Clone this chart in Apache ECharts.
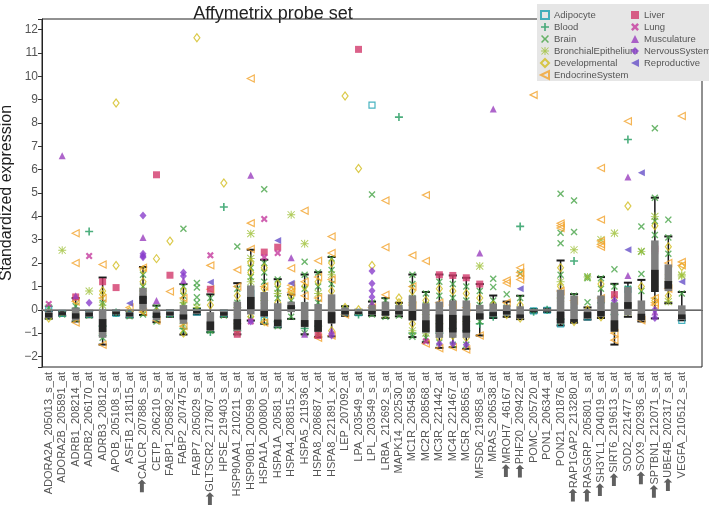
<!DOCTYPE html>
<html><head><meta charset="utf-8">
<script src="https://cdn.jsdelivr.net/npm/echarts@6/dist/echarts.min.js"></script>
<style>html,body{margin:0;padding:0;background:#fff}#c{width:709px;height:514px}</style>
</head><body><div id="c"></div>
<script>
const categories = ['ADORA2A_205013_s_at','ADORA2B_205891_at','ADRB1_208214_at','ADRB2_206170_at','ADRB3_20812_at','APOB_205108_s_at','ASF1B_218115_at','CALCR_207886_s_at','CETP_206210_s_at','FABP1_205892_s_at','FABP2_207475_at','FABP7_205029_s_at','GLTSCR2_217807_s_at','HPSE_219403_s_at','HSP90AA1_210211_s_at','HSP90B1_200599_s_at','HSPA1A_200800_s_at','HSPA1A_20581_s_at','HSPA4_208815_x_at','HSPA5_211936_at','HSPA8_208687_x_at','HSPA8_221891_x_at','LEP_207092_at','LPA_203549_s_at','LPL_203549_s_at','LRBA_212692_s_at','MAPK14_202530_at','MC1R_205458_at','MC2R_208568_at','MC3R_221442_at','MC4R_221467_at','MC5R_208565_at','MFSD6_219858_s_at','MRAS_206538_at','MROH7_46167_at','PHF20_209422_at','POMC_205720_at','PON1_206344_at','PON21_201876_at','RAP1GAP2_213280_at','RASGRP_205801_s_at','SH3YL1_204019_s_at','SIRT6_219613_s_at','SOD2_221477_s_at','SOX9_202936_s_at','SPTBN1_212071_s_at','UBE4B_202317_s_at','VEGFA_210512_s_at'];
const markedProbes = ['CALCR_207886_s_at','GLTSCR2_217807_s_at','MROH7_46167_at','PHF20_209422_at','RAP1GAP2_213280_at','RASGRP_205801_s_at','SH3YL1_204019_s_at','SIRT6_219613_s_at','SOX9_202936_s_at','SPTBN1_212071_s_at','UBE4B_202317_s_at'];

const whiskerLow  = [-0.38,-0.25,-0.5,-0.32,-1.49,-0.22,-0.33,-0.22,-0.53,-0.3,-1.06,-0.2,-0.96,-0.3,-1.05,-0.46,-0.6,-0.75,-0.39,-1.05,-1.17,-1.14,-0.26,-0.22,-0.25,-0.35,-0.28,-1.17,-1.39,-1.63,-1.6,-1.67,-1.1,-0.35,-0.3,-0.4,-0.12,-0.1,-0.67,-0.55,-0.42,-0.35,-1.49,-0.3,-0.5,-0.37,0.28,-0.45];
const boxLow      = [-0.36,-0.24,-0.45,-0.3,-1.2,-0.2,-0.3,0.0,-0.45,-0.27,-0.6,-0.18,-0.9,-0.27,-0.9,-0.2,-0.3,-0.72,-0.1,-0.75,-0.95,-0.6,-0.24,-0.2,-0.22,-0.28,-0.22,-0.46,-1.0,-1.2,-1.2,-1.2,-0.43,-0.3,-0.25,-0.38,-0.1,-0.08,-0.6,-0.53,-0.39,-0.3,-0.95,-0.24,-0.46,0.76,0.8,-0.44];
const darkLow     = [-0.33,-0.22,-0.38,-0.28,-0.95,-0.18,-0.28,0.25,-0.35,-0.24,-0.42,-0.15,-0.88,-0.25,-0.85,0.0,-0.28,-0.7,0.0,-0.73,-0.94,-0.57,-0.2,-0.18,-0.2,-0.25,-0.2,-0.45,-0.95,-0.95,-0.97,-0.98,-0.41,-0.28,-0.2,-0.35,-0.09,-0.07,-0.58,-0.52,-0.36,-0.28,-0.93,0.04,-0.44,0.76,0.9,-0.4];
const darkHigh    = [-0.13,-0.1,-0.15,-0.12,-0.4,-0.08,-0.12,0.6,-0.12,-0.1,-0.2,-0.05,-0.5,-0.1,-0.4,0.55,0.0,-0.42,0.2,-0.44,-0.44,-0.1,-0.02,-0.08,-0.02,-0.05,-0.02,-0.05,-0.45,-0.2,-0.22,-0.25,-0.15,-0.1,-0.05,-0.2,0.0,0.02,-0.08,-0.4,-0.1,-0.05,-0.45,0.33,-0.17,1.71,1.23,-0.2];
const boxHigh     = [-0.08,-0.08,0.1,-0.06,0.0,-0.05,-0.08,0.93,-0.02,-0.05,0.2,0.0,-0.1,-0.05,0.35,1.04,0.76,0.28,0.35,0.33,0.25,0.66,0.1,-0.03,0.2,0.35,0.2,0.61,0.28,0.35,0.4,0.4,0.21,0.27,0.2,0.15,0.02,0.05,0.86,0.61,0.04,0.61,0.3,0.97,0.4,2.97,1.94,0.19];
const whiskerHigh = [-0.05,-0.06,0.5,-0.04,1.38,-0.03,-0.05,1.83,0.18,-0.02,1.1,0.05,0.66,-0.03,1.14,2.57,2.14,1.31,0.65,1.51,1.61,2.26,0.15,0.0,0.35,0.5,0.3,1.51,0.76,1.51,1.47,1.37,1.1,0.61,0.35,0.6,0.03,0.06,2.11,0.67,0.1,1.4,1.11,1.16,1.28,4.8,3.14,0.76];

const yTicks = [-2,-1,0,1,2,3,4,5,6,7,8,9,10,11,12];

// [category index, standardized expression]
const adipocyte = [[0,0.0],[1,-0.15],[3,-0.2],[5,-0.15],[6,-0.2],[9,-0.15],[11,-0.1],[13,-0.15],[15,0.7],[16,-0.45],[17,-0.6],[22,-0.1],[23,-0.12],[24,8.76],[26,-0.05],[33,-0.1],[34,-0.1],[36,-0.05],[37,-0.02],[38,-0.6],[40,-0.3],[43,0.87],[47,-0.45]];
const blood = [[0,0.15],[2,0.05],[3,3.35],[4,-1.1],[4,-0.7],[5,-0.12],[7,0.5],[8,-0.3],[10,-0.8],[12,-0.95],[13,4.4],[14,-0.9],[17,-0.5],[18,0.1],[19,-0.8],[20,-0.7],[23,-0.2],[26,8.25],[27,-1.0],[29,-1.0],[30,-0.8],[31,-0.9],[32,-0.6],[33,-0.3],[35,3.57],[36,-0.08],[37,0.0],[38,-0.4],[39,2.09],[41,0.3],[42,-0.2],[43,7.29]];
const brain = [[0,0.1],[0,-0.3],[1,-0.2],[2,-0.4],[2,0.15],[3,-0.25],[4,-1.2],[4,-0.9],[4,0.3],[4,-0.1],[4,-0.6],[6,-0.28],[7,1.5],[7,1.0],[7,0.2],[7,-0.2],[8,-0.5],[8,0.1],[9,-0.2],[10,3.47],[10,1.0],[10,0.6],[10,0.2],[10,-0.4],[10,-0.9],[11,1.15],[11,0.95],[11,0.54],[11,0.3],[12,0.5],[12,-0.3],[12,-0.9],[13,-0.25],[14,2.71],[14,0.9],[14,0.3],[14,-0.5],[14,-1.0],[15,1.8],[15,1.4],[15,0.9],[15,0.3],[15,-0.4],[16,5.16],[16,2.0],[16,1.6],[16,1.2],[16,0.6],[16,-0.1],[17,1.3],[17,0.9],[17,0.5],[17,0.0],[17,-0.7],[18,0.4],[18,-0.3],[19,2.06],[19,1.5],[19,0.9],[19,0.2],[19,-0.6],[19,-1.0],[20,1.6],[20,1.0],[20,0.3],[20,-0.5],[20,-1.0],[21,2.2],[21,1.7],[21,1.1],[21,0.4],[21,-0.3],[22,0.05],[24,4.94],[24,0.3],[24,-0.2],[25,0.4],[25,-0.3],[26,0.1],[26,-0.25],[27,1.5],[27,1.1],[27,0.5],[27,-0.3],[27,-1.15],[28,0.7],[28,0.2],[28,-0.5],[28,-1.2],[29,1.2],[29,0.6],[29,0.0],[29,-0.8],[29,-1.4],[30,1.1],[30,0.5],[30,-0.2],[30,-0.9],[30,-1.5],[31,1.0],[31,0.4],[31,-0.3],[31,-1.0],[31,-1.5],[32,0.8],[32,0.2],[32,-0.5],[33,1.33],[33,0.97],[33,0.4],[34,0.66],[34,0.1],[35,1.55],[35,0.5],[35,-0.2],[38,4.97],[38,3.3],[38,2.85],[38,1.5],[38,0.3],[38,-0.5],[39,4.68],[39,3.33],[39,0.6],[39,0.0],[40,1.43],[40,1.35],[40,0.32],[41,1.35],[41,0.9],[41,0.0],[42,1.73],[42,1.0],[42,0.2],[42,-0.6],[43,0.9],[43,0.4],[44,3.57],[44,2.5],[44,1.53],[44,0.8],[44,-0.2],[45,7.77],[45,4.8],[45,3.8],[45,3.2],[45,2.5],[46,3.86],[46,3.1],[46,2.4],[47,0.7]];
const bronchialEpithelium = [[1,2.55],[2,-0.1],[3,0.8],[4,0.2],[4,-1.0],[7,0.8],[10,0.3],[10,-0.6],[11,0.1],[14,0.1],[14,-0.6],[15,3.26],[15,2.2],[15,1.2],[16,0.4],[17,0.7],[18,4.07],[19,2.83],[20,0.7],[21,1.5],[25,-0.2],[27,0.3],[27,-0.9],[28,-0.2],[28,-1.0],[29,-0.6],[30,-0.4],[31,-0.5],[32,1.87],[38,1.2],[38,0.5],[39,2.57],[40,1.4],[41,3.0],[42,3.28],[43,-0.1],[44,2.5],[45,4.0],[46,1.2],[46,0.35],[47,1.5],[47,1.45]];
const developmental = [[0,-0.35],[2,-0.3],[2,0.4],[4,0.8],[4,0.65],[4,-0.4],[5,8.85],[5,1.9],[6,-0.05],[7,1.7],[7,1.2],[7,0.0],[8,2.19],[8,-0.1],[9,2.94],[10,0.8],[10,-0.2],[10,-1.0],[11,11.65],[12,0.2],[12,-0.6],[13,5.43],[14,0.6],[14,-0.2],[14,-0.8],[15,2.0],[15,1.6],[15,-0.3],[16,1.8],[16,0.9],[16,-0.5],[17,1.1],[17,0.3],[18,0.6],[18,0.8],[19,1.0],[19,-0.3],[20,1.2],[20,0.0],[20,-0.9],[21,2.0],[21,0.8],[21,-0.9],[22,9.15],[22,0.1],[23,6.05],[23,0.0],[24,1.9],[25,0.1],[26,0.5],[26,0.3],[27,0.8],[27,-0.6],[28,0.4],[28,-0.8],[29,0.9],[29,-0.3],[29,-1.2],[30,0.8],[30,-0.5],[30,-1.1],[31,0.7],[31,-0.6],[31,-1.2],[32,0.5],[32,-0.2],[33,0.2],[34,-0.2],[35,0.2],[35,-0.35],[38,1.8],[38,1.0],[38,-0.3],[39,0.3],[39,-0.5],[40,0.0],[41,1.1],[41,-0.3],[42,-0.8],[42,0.5],[43,4.44],[43,0.2],[44,1.0],[44,0.0],[45,3.6],[45,1.0],[45,0.4],[46,2.7],[46,1.5],[46,0.6],[47,1.85]];
const endocrineSystem = [[2,3.28],[2,2.0],[2,-0.55],[2,0.35],[4,1.94],[4,-1.5],[4,0.5],[6,0.1],[7,1.8],[7,-0.1],[8,-0.45],[9,0.78],[10,0.5],[10,-0.7],[12,1.9],[12,0.88],[14,1.71],[14,1.0],[15,9.9],[15,3.71],[15,2.6],[16,1.0],[16,-0.55],[18,1.78],[18,1.05],[18,0.9],[18,0.75],[19,4.24],[19,1.2],[19,0.6],[20,2.1],[20,1.4],[20,0.5],[20,-1.2],[21,3.14],[21,2.43],[21,1.3],[21,-1.1],[22,-0.2],[24,0.1],[25,4.68],[25,2.68],[25,0.64],[27,2.33],[27,1.0],[27,0.2],[28,4.91],[28,2.09],[28,-1.45],[29,0.3],[29,-1.65],[30,0.2],[30,-1.6],[31,0.1],[31,-1.7],[32,-1.1],[34,1.26],[34,1.15],[34,0.3],[35,1.8],[35,1.6],[35,1.45],[35,1.3],[36,9.2],[38,3.7],[38,3.5],[38,3.6],[38,0.8],[39,0.4],[41,6.07],[41,3.86],[41,2.95],[41,2.8],[41,2.7],[41,0.5],[42,-1.0],[42,-1.3],[43,8.07],[44,-0.45],[45,0.5],[45,0.3],[45,0.2],[46,2.0],[46,0.9],[47,8.3],[47,2.05],[47,1.9]];
const liver = [[2,0.55],[4,1.2],[5,0.95],[8,5.78],[9,1.48],[12,0.88],[14,-1.05],[16,2.47],[17,2.68],[20,-1.1],[23,11.15],[29,1.5],[30,1.47],[31,1.37],[32,1.1],[42,0.65],[45,2.6]];
const lung = [[0,0.25],[3,2.3],[12,2.33],[15,-0.5],[16,3.89],[16,2.25],[17,2.43],[28,-1.35]];
const musculature = [[1,6.6],[2,0.6],[7,3.09],[8,0.4],[10,1.25],[15,5.76],[18,2.23],[19,-1.05],[21,-0.9],[24,0.3],[32,2.43],[33,8.6],[43,5.68],[43,1.47],[45,2.55],[45,-0.1]];
const nervousSystem = [[3,0.3],[7,4.04],[7,2.4],[7,2.3],[7,2.25],[10,1.6],[10,1.45],[15,-0.5],[21,-1.1],[24,1.66],[24,1.13],[24,0.82],[24,0.55],[29,-1.45],[30,-1.45],[31,-1.5],[42,0.4],[45,-0.35],[45,0.0]];
const reproductive = [[6,0.28],[12,1.18],[17,2.97],[18,1.14],[35,0.9],[43,2.57],[44,5.87],[47,1.2]];

const FONT = "'Liberation Sans', Arial, sans-serif";
const SYM = {
  plus: 'path://M4,0h2v4h4v2h-4v4h-2v-4h-4v-2h4z',
  cross: 'path://M1.4,0L5,3.6L8.6,0L10,1.4L6.4,5L10,8.6L8.6,10L5,6.4L1.4,10L0,8.6L3.6,5L0,1.4Z',
  bigcross: 'path://M2.2,0L5,2.8L7.8,0L10,2.2L7.2,5L10,7.8L7.8,10L5,7.2L2.2,10L0,7.8L2.8,5L0,2.2Z',
  star: 'path://M4.4,0H5.6V10H4.4Z M0,4.4H10V5.6H0Z M1,0.2L9.8,9L9,9.8L0.2,1Z M9,0.2L9.8,1L1,9.8L0.2,9Z',
  tleft: 'path://M0,5L10,0L10,10Z'
};

function sc(name, data, symbol, color, hollow, size) {
  return {
    name, type: 'scatter', data, symbol, symbolSize: size, z: 2,
    itemStyle: hollow ? { color: 'rgba(255,255,255,0)', borderColor: color, borderWidth: 1.2 } : { color: color },
    emphasis: { disabled: true }
  };
}

const boxData = categories.map((c, i) => [i, whiskerLow[i], boxLow[i], darkLow[i], darkHigh[i], boxHigh[i], whiskerHigh[i]]);

function renderWhisker(params, api) {
  const x = api.value(0);
  const lo = api.coord([x, api.value(1)]);
  const hi = api.coord([x, api.value(6)]);
  const w = api.size([1, 0])[0] * 0.6;
  const st = { stroke: '#1a1a1a', lineWidth: 1.5 };
  return { type: 'group', children: [
    { type: 'line', shape: { x1: lo[0], y1: lo[1], x2: hi[0], y2: hi[1] }, style: st },
    { type: 'line', shape: { x1: lo[0] - w / 2, y1: lo[1], x2: lo[0] + w / 2, y2: lo[1] }, style: { stroke: '#1a1a1a', lineWidth: 2 } },
    { type: 'line', shape: { x1: hi[0] - w / 2, y1: hi[1], x2: hi[0] + w / 2, y2: hi[1] }, style: { stroke: '#1a1a1a', lineWidth: 2 } }
  ]};
}
function renderBox(params, api) {
  const x = api.value(0);
  const bl = api.coord([x, api.value(2)]);
  const dl = api.coord([x, api.value(3)]);
  const dh = api.coord([x, api.value(4)]);
  const bh = api.coord([x, api.value(5)]);
  const w = api.size([1, 0])[0] * 0.56;
  return { type: 'group', children: [
    { type: 'rect', shape: { x: bl[0] - w / 2, y: bh[1], width: w, height: bl[1] - bh[1] }, style: { fill: '#7f7f7f' } },
    { type: 'rect', shape: { x: dl[0] - w / 2, y: dh[1], width: w, height: dl[1] - dh[1] }, style: { fill: '#262626' } }
  ]};
}

const chart = echarts.init(document.getElementById('c'), null, { renderer: 'canvas' });
chart.setOption({
  animation: false,
  backgroundColor: '#fff',
  title: { text: 'Affymetrix probe set', left: 268, top: 0, textAlign: 'center',
    textStyle: { fontFamily: FONT, fontSize: 18, fontWeight: 'normal', color: '#222' } },
  grid: { left: 42, right: 7, top: 19, bottom: 147, show: true, borderColor: '#222', borderWidth: 1,
    containLabel: false, outerBoundsMode: 'none' },
  graphic: [{ type: 'rect', z: 3, shape: { x: 537, y: 4, width: 172, height: 77 }, style: { fill: '#e6e6e6' } }],
  legend: [
    { data: ['Adipocyte','Blood','Brain','BronchialEpithelium','Developmental','EndocrineSystem'],
      orient: 'vertical', left: 540, top: 10, itemWidth: 8, itemHeight: 8, itemGap: 2, padding: 0,
      textStyle: { fontFamily: FONT, fontSize: 9.5, color: '#555' }, z: 5 },
    { data: ['Liver','Lung','Musculature','NervousSystem','Reproductive'],
      orient: 'vertical', left: 631, top: 10, itemWidth: 8, itemHeight: 8, itemGap: 2, padding: 0,
      textStyle: { fontFamily: FONT, fontSize: 9.5, color: '#555' }, z: 5 }
  ],
  xAxis: {
    type: 'category', data: categories.concat(['']), boundaryGap: true,
    axisLine: { lineStyle: { color: '#222', width: 1 } },
    axisTick: { alignWithLabel: true, length: 4, interval: (i) => i < categories.length, lineStyle: { color: '#333' } },
    axisLabel: {
      interval: 0, rotate: 90, margin: 5, fontFamily: FONT, fontSize: 11, color: '#555',
      formatter: (v) => markedProbes.includes(v) ? '{arr|\u27A1}' + v : v,
      rich: { arr: { fontFamily: "'DejaVu Sans'", fontSize: 17, color: '#606060' } }
    },
    splitLine: { show: false }
  },
  yAxis: {
    type: 'value', min: -2.45, max: 12.45, splitNumber: 15, minInterval: 1, maxInterval: 1,
    name: 'Standardized expression', nameLocation: 'middle', nameGap: 27, nameMoveOverlap: false,
    nameTextStyle: { fontFamily: FONT, fontSize: 16, color: '#222' },
    axisLine: { show: true, lineStyle: { color: '#222' } },
    axisTick: { show: true, length: 4, lineStyle: { color: '#333' } },
    axisLabel: { fontFamily: FONT, fontSize: 12, color: '#555', margin: 4,
      formatter: (v) => yTicks.includes(Math.round(v * 100) / 100) ? (v < 0 ? '\u2212' + (-v) : String(v)) : '' },
    splitLine: { show: false }
  },
  series: [
    { type: 'line', data: [], z: 1, silent: true,
      markLine: { silent: true, symbol: 'none', label: { show: false },
        lineStyle: { color: '#808080', width: 1.5, type: 'solid' }, data: [{ yAxis: 0 }] } },
    { type: 'custom', name: 'whiskers', data: boxData, renderItem: renderWhisker, encode: { x: 0, y: [1, 6] }, z: 1, silent: true },
    sc('Adipocyte', adipocyte, 'rect', '#1aa0b0', true, 6),
    sc('Blood', blood, SYM.plus, '#1f9a5c', false, 8),
    sc('Brain', brain, SYM.cross, '#47a447', false, 7),
    sc('BronchialEpithelium', bronchialEpithelium, SYM.star, '#9cbf35', false, 8),
    sc('Developmental', developmental, 'diamond', '#d2bd1e', true, [6, 8]),
    sc('EndocrineSystem', endocrineSystem, SYM.tleft, '#f2a22a', true, 7),
    sc('Liver', liver, 'rect', '#d23a6c', false, 7),
    sc('Lung', lung, SYM.bigcross, '#c43a9e', false, 7),
    sc('Musculature', musculature, 'triangle', '#9a3fbe', false, 7),
    sc('NervousSystem', nervousSystem, 'diamond', '#8a3fcc', false, [7, 8]),
    sc('Reproductive', reproductive, SYM.tleft, '#6650c8', false, 7),
    { type: 'custom', name: 'boxes', data: boxData, renderItem: renderBox, encode: { x: 0, y: [2, 5] }, z: 3, silent: true }
  ]
});
</script>
</body></html>
